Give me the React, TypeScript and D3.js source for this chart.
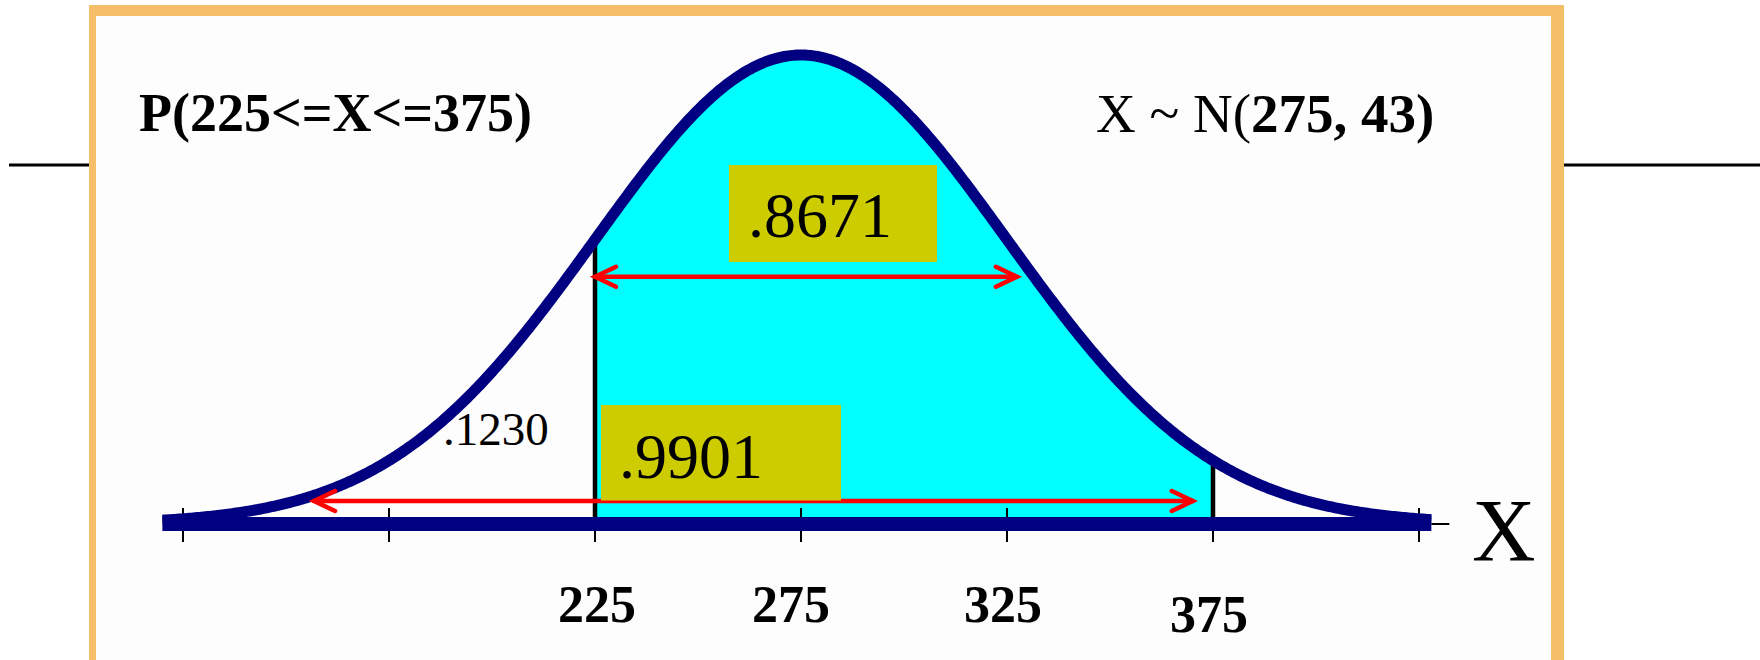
import React from "react";
import * as d3 from "d3";

// Distribution shown on the axis
const curveMean = 275;
const curveSpread = 50; // one tick step per spread unit
const curveDomain = [120, 428];

// Axis ticks and labels
const tickValues = [125, 175, 225, 275, 325, 375, 425];
const labeledTicks = [225, 275, 325, 375];

// Shaded interval and its probabilities
const shadedRange = [225, 375];
const upperArrowRange = [225, 327.4];
const lowerArrowRange = [156.8, 370.1];
const probUpper = ".8671";
const probLower = ".9901";
const probLeftTail = ".1230";

const titleLeft = "P(225<=X<=375)";
const titleRightPlain = "X ~ N(";
const titleRightBold = "275, 43)";
const axisName = "X";

const W = 1760;
const H = 660;
const NAVY = "#000080";
const CYAN = "#00FFFF";
const OLIVE = "#CDCC00";
const ORANGE = "#F5BF69";
const RED = "#FF0000";
const SERIF = "'Liberation Serif', 'Times New Roman', serif";

// small horizontal nudges for the tick labels
const labelNudge = (i: number) => (i === 0 ? 2 : i === 1 ? -10 : -4);

export default function App() {
  const x = d3.scaleLinear().domain([125, 425]).range([183, 1419]);
  const y = d3.scaleLinear().domain([0, 1]).range([524, 55]);
  const dens = (v: number) => Math.exp(-0.5 * ((v - curveMean) / curveSpread) ** 2);

  const curvePts = d3.range(curveDomain[0], curveDomain[1] + 0.01, 0.5);
  const line = d3
    .line<number>()
    .x((v) => x(v))
    .y((v) => y(dens(v)))
    .curve(d3.curveLinear);

  const shadePts = d3.range(shadedRange[0], shadedRange[1] + 0.01, 0.5);
  const area = d3
    .area<number>()
    .x((v) => x(v))
    .y0(y(0))
    .y1((v) => y(dens(v)));

  const baseY = y(0);
  const upperY = y(0.527);
  const lowerY = y(0.049);

  const head = (tipX: number, yy: number, dir: number) =>
    `M${tipX + dir * 21},${yy - 10} L${tipX},${yy} L${tipX + dir * 21},${yy + 10}`;

  return (
    <svg
      width={W}
      height={H}
      style={{ position: "absolute", left: 0, top: 0, display: "block" }}
    >
      <rect x={0} y={0} width={W} height={H} fill="#ffffff" />
      {/* panel */}
      <rect x={96} y={16} width={1455} height={H - 16} fill="#FDFDFD" />

      {/* shaded region */}
      <path d={area(shadePts) || ""} fill={CYAN} />

      {/* boundary lines at the interval ends */}
      {shadedRange.map((v) => (
        <line
          key={v}
          x1={x(v)}
          x2={x(v)}
          y1={y(dens(v))}
          y2={baseY + 2}
          stroke="#000"
          strokeWidth={4.5}
        />
      ))}

      {/* ticks */}
      {tickValues.map((v) => (
        <line
          key={v}
          x1={x(v)}
          x2={x(v)}
          y1={508}
          y2={542}
          stroke="#000"
          strokeWidth={2}
        />
      ))}

      {/* baseline */}
      <line
        x1={x(curveDomain[0])}
        x2={x(curveDomain[1])}
        y1={baseY}
        y2={baseY}
        stroke={NAVY}
        strokeWidth={14}
      />
      <line
        x1={x(curveDomain[1])}
        x2={x(curveDomain[1]) + 18}
        y1={baseY}
        y2={baseY}
        stroke="#000"
        strokeWidth={2}
      />

      {/* density curve */}
      <path
        d={line(curvePts) || ""}
        fill="none"
        stroke={NAVY}
        strokeWidth={11}
        strokeLinejoin="round"
      />

      {/* arrows */}
      <g stroke={RED} strokeWidth={4.5} fill="none" strokeLinecap="round">
        <line x1={x(upperArrowRange[0])} x2={x(upperArrowRange[1])} y1={upperY} y2={upperY} />
        <path d={head(x(upperArrowRange[0]), upperY, 1)} />
        <path d={head(x(upperArrowRange[1]), upperY, -1)} />
        <line x1={x(lowerArrowRange[0])} x2={x(lowerArrowRange[1])} y1={lowerY} y2={lowerY} />
        <path d={head(x(lowerArrowRange[0]), lowerY, 1)} />
        <path d={head(x(lowerArrowRange[1]), lowerY, -1)} />
      </g>

      {/* probability boxes */}
      <rect x={729} y={165} width={208} height={97} fill={OLIVE} />
      <text x={748} y={237} fontFamily={SERIF} fontSize={64} fill="#000">
        {probUpper}
      </text>
      <rect x={601} y={405} width={240} height={95.5} fill={OLIVE} />
      <text x={619} y={478} fontFamily={SERIF} fontSize={64} fill="#000">
        {probLower}
      </text>
      <text x={443} y={445} fontFamily={SERIF} fontSize={47} fill="#000">
        {probLeftTail}
      </text>

      {/* titles */}
      <text x={139} y={131} fontFamily={SERIF} fontSize={54} fontWeight="bold" fill="#000">
        {titleLeft}
      </text>
      <text x={1096} y={132} fontFamily={SERIF} fontSize={55} fill="#000">
        <tspan>{titleRightPlain}</tspan>
        <tspan fontWeight="bold">{titleRightBold}</tspan>
      </text>

      {/* tick labels */}
      {labeledTicks.map((v, i) => (
        <text
          key={v}
          x={x(v) + labelNudge(i)}
          y={i === labeledTicks.length - 1 ? 632 : 622}
          textAnchor="middle"
          fontFamily={SERIF}
          fontSize={52}
          fontWeight="bold"
          fill="#000"
        >
          {v}
        </text>
      ))}

      {/* axis name */}
      <text x={1472} y={560} fontFamily={SERIF} fontSize={88} fill="#000">
        {axisName}
      </text>

      {/* frame */}
      <rect x={89} y={5} width={1475} height={11} fill={ORANGE} />
      <rect x={89} y={5} width={7} height={H} fill={ORANGE} />
      <rect x={1551} y={5} width={13} height={H} fill={ORANGE} />

      {/* rule lines outside the frame */}
      <line x1={9} x2={89} y1={165} y2={165} stroke="#000" strokeWidth={3} />
      <line x1={1564} x2={W} y1={165} y2={165} stroke="#000" strokeWidth={3} />
    </svg>
  );
}
